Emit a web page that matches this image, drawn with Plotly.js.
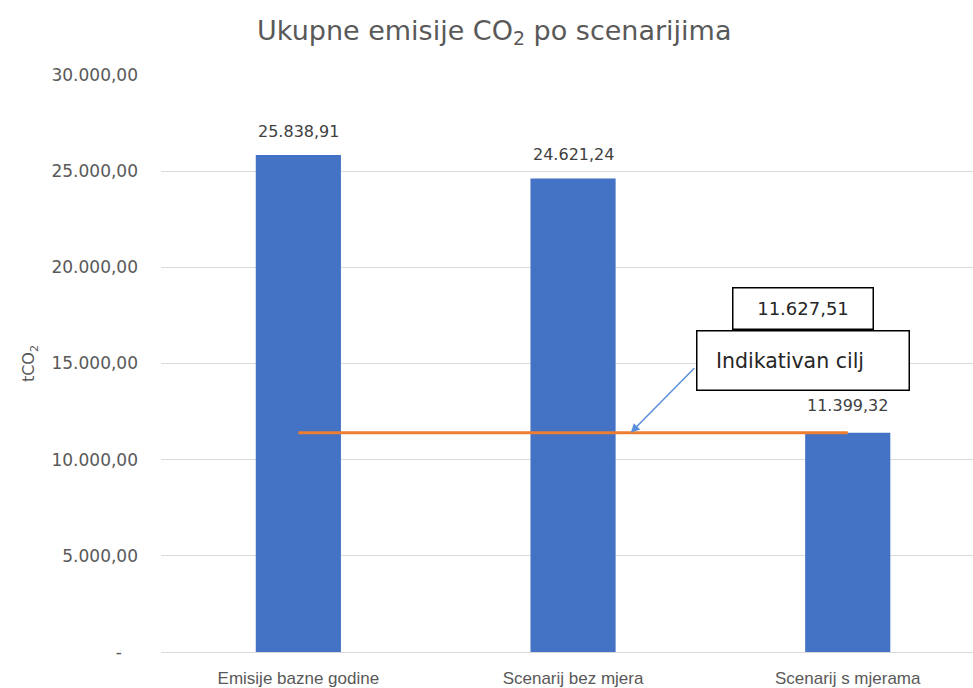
<!DOCTYPE html>
<html>
<head>
<meta charset="utf-8">
<script src="https://cdn.plot.ly/plotly-3.0.1.min.js"></script>
<style>html,body{margin:0;padding:0;background:#fff;}#chart{width:973px;height:688px;}</style>
</head>
<body>
<div id="chart"></div>
<script>
const categories = ['Emisije bazne godine', 'Scenarij bez mjera', 'Scenarij s mjerama'];
const emissions = [25838.91, 24621.24, 11399.32];
const emissionLabels = ['25.838,91', '24.621,24', '11.399,32'];
const targetLine = [11400, 11400, 11400];
const targetValueLabel = '11.627,51';
const targetName = 'Indikativan cilj';
const yTickVals = [0, 5000, 10000, 15000, 20000, 25000, 30000];
const yTickText = ['-\u00a0\u00a0\u00a0', '5.000,00', '10.000,00', '15.000,00', '20.000,00', '25.000,00', '30.000,00'];

const barTrace = {
  type: 'bar',
  x: categories,
  y: emissions,
  marker: {color: '#4472C4'},
  width: 0.31,
  hoverinfo: 'skip'
};
const lineTrace = {
  type: 'scatter',
  mode: 'lines',
  x: categories,
  y: targetLine,
  line: {color: '#ED7D31', width: 3},
  hoverinfo: 'skip'
};

const labelYShift = [12, 12, 16];
const annotations = categories.map((c, i) => ({
  x: c, y: emissions[i], xref: 'x', yref: 'y',
  text: emissionLabels[i], showarrow: false,
  yanchor: 'bottom', yshift: labelYShift[i],
  font: {family: 'DejaVu Sans', size: 16, color: '#404040'}
}));

annotations.push({
  xref: 'paper', yref: 'paper', x: 0.7906, y: 0.5945,
  xanchor: 'center', yanchor: 'middle',
  text: targetValueLabel, showarrow: false,
  width: 139, height: 40, borderpad: 0,
  bordercolor: '#000', borderwidth: 1.5, bgcolor: '#fff',
  font: {family: 'DejaVu Sans', size: 18, color: '#262626'}
});
annotations.push({
  xref: 'paper', yref: 'paper', x: 0.7906, y: 0.506,
  xanchor: 'center', yanchor: 'middle',
  text: targetName + '\u00a0\u00a0\u00a0\u00a0', showarrow: false,
  width: 211, height: 58, borderpad: 0, valign: 'middle',
  bordercolor: '#000', borderwidth: 1.5, bgcolor: '#fff',
  font: {family: 'DejaVu Sans', size: 20.5, color: '#262626'}
});
annotations.push({
  xref: 'x', yref: 'y', x: 1.21, y: targetLine[1],
  text: '', showarrow: true,
  ax: 65, ay: -66,
  arrowhead: 2, arrowsize: 1.2, arrowwidth: 1.5, arrowcolor: '#5B8FD9'
});

const layout = {
  width: 973, height: 688,
  margin: {l: 161, r: 0, t: 75, b: 36},
  paper_bgcolor: '#fff', plot_bgcolor: '#fff',
  showlegend: false,
  title: {
    text: 'Ukupne emisije CO<sub>2</sub> po scenarijima',
    xref: 'container', yref: 'container', x: 0.508, y: 0.956,
    xanchor: 'center', yanchor: 'middle',
    font: {family: 'DejaVu Sans', size: 27, color: '#595959'}
  },
  xaxis: {
    type: 'category',
    range: [-0.5, 2.456],
    showgrid: false,
    showline: true, linecolor: '#d9d9d9', linewidth: 1,
    ticks: '',
    ticklabelstandoff: 11,
    tickfont: {family: 'Liberation Sans', size: 17, color: '#595959'},
    fixedrange: true
  },
  yaxis: {
    range: [0, 30000],
    tickvals: yTickVals,
    ticktext: yTickText,
    showgrid: true, gridcolor: '#d9d9d9', gridwidth: 1,
    zeroline: false,
    ticks: '',
    ticklabelstandoff: 22,
    tickfont: {family: 'DejaVu Sans', size: 17, color: '#595959'},
    title: {text: 'tCO<sub>2</sub>', standoff: 12, font: {family: 'DejaVu Sans', size: 16, color: '#595959'}},
    fixedrange: true
  },
  annotations: annotations
};

Plotly.newPlot('chart', [barTrace, lineTrace], layout, {displayModeBar: false, staticPlot: true});
</script>
</body>
</html>
